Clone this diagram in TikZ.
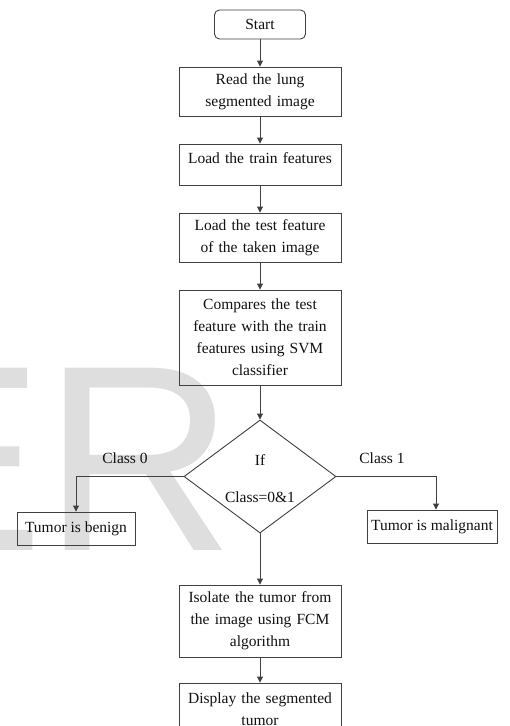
\documentclass[tikz,border=0pt]{standalone}
\usepackage{fontspec}
\setmainfont{Liberation Serif}
\newfontfamily\wmfont{Liberation Sans}
\usetikzlibrary{arrows.meta,shapes.geometric,calc}
\definecolor{linegray}{HTML}{404040}
\definecolor{wmgray}{HTML}{DEDEDE}
\definecolor{txt}{HTML}{111111}
\begin{document}
\begin{tikzpicture}[x=1pt,y=-1pt,
  every node/.style={font=\fontsize{15.5}{22}\selectfont, text=txt},
  box/.style={draw=linegray, line width=0.9pt, minimum width=162pt, text width=154pt, inner sep=4pt, align=center},
  smallbox/.style={draw=linegray, line width=0.9pt, inner sep=0pt, align=center},
  startbox/.style={draw=linegray, line width=0.9pt, rounded corners=5pt, minimum width=91pt, minimum height=29pt, inner sep=0pt},
  decision/.style={draw=linegray, line width=0.9pt, diamond, minimum width=152pt, minimum height=113pt, inner sep=0pt, aspect=1.345},
  lbl/.style={inner sep=0pt},
  flow/.style={draw=linegray, line width=0.9pt, -{Triangle[length=6pt,width=6pt]}},
  wm/.style={font=\wmfont\fontsize{265}{265}\selectfont, text=wmgray, inner sep=0pt, anchor=base west}
]
\useasboundingbox (0,0) rectangle (510,726);
\clip (0,0) rectangle (510,726);
\fill[white] (0,0) rectangle (510,726);
% watermark
\node[wm] (wmark) at (-133,550) {ER};
% nodes
\node[startbox] (start) at (260,24.5) {Start};
\node[box, minimum height=49pt] (read) at (260,91.5) {Read the lung\\segmented image};
\node[box, minimum height=41pt, text depth=12pt] (train) at (260,164.5) {Load the train features};
\node[box, minimum height=49pt] (test) at (260,237.5) {Load the test feature\\of the taken image};
\node[box, minimum height=95pt] (comp) at (260,337.5) {Compares the test\\feature with the train\\features using SVM\\classifier};
\node[decision] (dec) at (260,476.5) {};
\node[lbl] (iftxt) at (260,460) {If};
\node[lbl] (classtxt) at (260,497) {Class=0\&1};
\node[smallbox, minimum width=118pt, minimum height=33pt] (benign) at (76,528.5) {Tumor is benign};
\node[smallbox, minimum width=130pt, minimum height=33pt] (malig) at (432,526.5) {Tumor is malignant};
\node[box, minimum height=72pt] (iso) at (260,621) {Isolate the tumor from\\the image using FCM\\algorithm};
\node[box, minimum height=52pt] (disp) at (260,709) {Display the segmented\\tumor};
\node[lbl] (c0) at (125,458) {Class 0};
\node[lbl] (c1) at (382,458) {Class 1};
\coordinate (lc) at (76,476.5);
\coordinate (rc) at (436,476.5);
% connectors
\draw[flow] (start) -- (read);
\draw[flow] (read) -- (train);
\draw[flow] (train) -- (test);
\draw[flow] (test) -- (comp);
\draw[flow] (comp) -- (dec.north);
\draw[flow] (dec.west) -- (lc) -- (benign.north);
\draw[flow] (dec.east) -- (rc) -- (rc |- malig.north);
\draw[flow] (dec.south) -- (iso);
\draw[flow] (iso) -- (disp);
\end{tikzpicture}
\end{document}
